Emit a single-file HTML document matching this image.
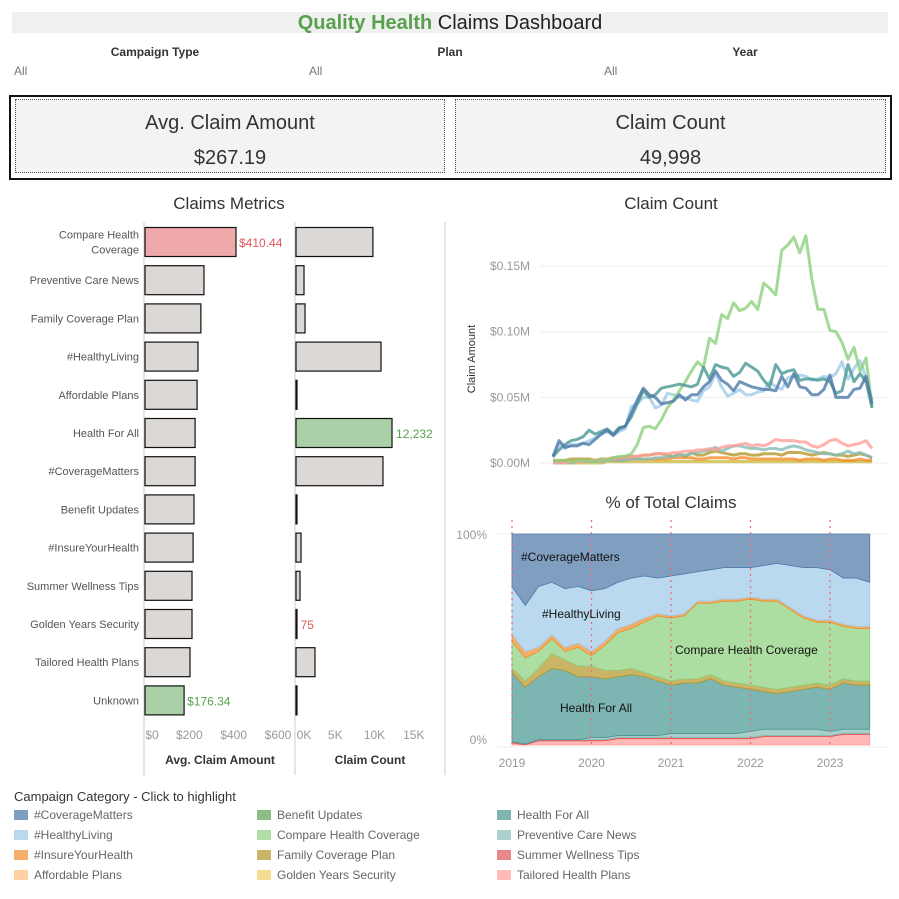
<!DOCTYPE html>
<html><head><meta charset="utf-8">
<style>
body{margin:0;width:899px;height:899px;background:#fff;font-family:"Liberation Sans","DejaVu Sans",sans-serif;position:relative;overflow:hidden}
.abs{position:absolute}
</style></head>
<body>
<div class="abs" style="left:12px;top:12px;width:876px;height:21px;background:#f0f0f0;text-align:center;font-size:20px;line-height:22px;color:#222"><b style="color:#59a14f">Quality Health</b> Claims Dashboard</div>

<div class="abs" style="left:80px;top:45px;width:150px;text-align:center;font-size:12px;font-weight:bold;color:#333">Campaign Type</div>
<div class="abs" style="left:14px;top:64px;font-size:12px;color:#777">All</div>
<div class="abs" style="left:375px;top:45px;width:150px;text-align:center;font-size:12px;font-weight:bold;color:#333">Plan</div>
<div class="abs" style="left:309px;top:64px;font-size:12px;color:#777">All</div>
<div class="abs" style="left:670px;top:45px;width:150px;text-align:center;font-size:12px;font-weight:bold;color:#333">Year</div>
<div class="abs" style="left:604px;top:64px;font-size:12px;color:#777">All</div>

<div class="abs" style="left:9px;top:95px;width:879px;height:81px;border:2px solid #111"></div>
<div class="abs" style="left:15px;top:99px;width:428px;height:72px;background:#f3f3f3;border:1px dotted #555;text-align:center;color:#333">
 <div style="font-size:20px;margin-top:12px">Avg. Claim Amount</div><div style="font-size:20px;margin-top:12px">$267.19</div></div>
<div class="abs" style="left:455px;top:99px;width:429px;height:72px;background:#f3f3f3;border:1px dotted #555;text-align:center;color:#333">
 <div style="font-size:20px;margin-top:12px">Claim Count</div><div style="font-size:20px;margin-top:12px">49,998</div></div>

<svg class="abs" style="left:0;top:0" width="899" height="899" id="chart" font-family="Liberation Sans, DejaVu Sans, sans-serif">
<text x="229" y="209" font-size="17" fill="#333" text-anchor="middle">Claims Metrics</text>
<text x="671" y="209" font-size="17" fill="#333" text-anchor="middle">Claim Count</text>
<text x="671" y="508" font-size="17" fill="#333" text-anchor="middle">% of Total Claims</text>
<line x1="445" y1="222" x2="445" y2="775" stroke="#ddd" stroke-width="1.5"/>
<line x1="144" y1="222" x2="144" y2="775" stroke="#ccc"/>
<line x1="295" y1="222" x2="295" y2="775" stroke="#ccc"/>
<text x="220" y="764" font-size="12" font-weight="bold" fill="#333" text-anchor="middle">Avg. Claim Amount</text>
<text x="370" y="764" font-size="12" font-weight="bold" fill="#333" text-anchor="middle">Claim Count</text>
<text x="466" y="350" font-size="11" fill="#333" text-anchor="middle" transform="rotate(-90 475 350)">Claim Amount</text>
<g id="bars"></g><g id="lines"></g><g id="areas"></g>
</svg>

<div class="abs" style="left:14px;top:789px;font-size:13px;color:#333">Campaign Category - Click to highlight</div>
<div id="legend"></div>

<script>
const NS="http://www.w3.org/2000/svg";
function mk(p,t,a){const e=document.createElementNS(NS,t);for(const k in a)e.setAttribute(k,a[k]);p.appendChild(e);return e;}
// ---- bar data
const barCats=["Compare Health Coverage","Preventive Care News","Family Coverage Plan","#HealthyLiving","Affordable Plans","Health For All","#CoverageMatters","Benefit Updates","#InsureYourHealth","Summer Wellness Tips","Golden Years Security","Tailored Health Plans","Unknown"];
const avgVals=[410.44,266,252,239,235,226,226,221,217,212,212,203,176.34];
const countVals=[9800,1020,1150,10830,130,12232,11080,100,640,510,75,2420,80];
const avgTicks=[0,200,400,600];
const countTicks=[0,5000,10000,15000];
const avgX=v=>145+v*0.2217, cntX=v=>296+v*0.00785, rowY=i=>242+i*38.2;
const bars=document.getElementById('bars');
barCats.forEach((c,i)=>{
  const y=rowY(i);
  let lbl=c==="Compare Health Coverage"?["Compare Health","Coverage"]:[c];
  lbl.forEach((l,j)=>{const t=mk(bars,'text',{x:139,y:y+4+(lbl.length>1?(j*15-7.5):0),'font-size':11,fill:'#555','text-anchor':'end'});t.textContent=l;
  
  });
  let fa=i===0?'#efa9aa':(c==="Unknown"?'#a9d0a6':'#dcd8d5');
  const r=mk(bars,'rect',{x:145,y:y-14.5,width:avgX(avgVals[i])-145,height:29,fill:fa,stroke:'#111','stroke-width':1.2});
  
  
  let fc=c==="Health For All"?'#a9d0a6':'#dcd8d5';
  const r2=mk(bars,'rect',{x:296,y:y-14.5,width:Math.max(1,cntX(countVals[i])-296),height:29,fill:fc,stroke:'#111','stroke-width':1.2});
  
  
  if(i===0||c==="Unknown"){const t=mk(bars,'text',{x:avgX(avgVals[i])+3,y:y+5,'font-size':12,fill:i===0?'#e15759':'#59a14f'});t.textContent='$'+avgVals[i].toFixed(2);
  
  }
  if(c==="Health For All"||c==="Golden Years Security"){const t=mk(bars,'text',{x:cntX(countVals[i])+4,y:y+5,'font-size':12,fill:c==="Health For All"?'#59a14f':'#e15759'});t.textContent=countVals[i].toLocaleString('en-US');
  
  }
});
avgTicks.forEach(v=>{const t=mk(bars,'text',{x:avgX(v)+(v===0?7:0),y:739,'font-size':12,fill:'#999','text-anchor':'middle'});t.textContent='$'+v;
  
  });
countTicks.forEach(v=>{const t=mk(bars,'text',{x:cntX(v)+(v===0?8:0),y:739,'font-size':12,fill:'#999','text-anchor':'middle'});t.textContent=(v/1000)+'K';
  
  });

// ---- line data ($K per month, Jan 2019 - Jun 2023)
const compareLine=[1,2,2,1,2,2,2,1,3,2,4,5,5,7,14,27,28,26,33,42,48,55,62,70,77,73,95,91,113,110,122,116,118,123,117,137,133,128,162,166,172,160,173,140,117,117,101,100,92,79,88,70,80,42];
const hfaLine=[5,10,14,17,18,20,25,22,24,26,22,27,28,35,45,55,50,52,57,58,59,60,59,58,60,73,64,75,73,72,66,69,76,73,70,63,58,75,68,70,71,63,64,64,63,64,62,53,55,75,62,68,62,42];
const coverageLine=[5,17,12,13,13,15,14,18,22,25,21,26,28,38,48,57,52,50,45,46,47,52,48,52,52,58,62,70,63,60,55,62,60,58,57,56,56,55,66,58,68,58,57,52,52,56,67,50,50,50,56,57,66,45];
const healthyLine=[4,14,11,14,14,15,17,19,22,24,21,24,26,43,45,50,50,42,44,53,52,50,50,48,47,55,58,68,58,51,53,56,52,52,54,55,62,58,56,65,66,67,66,63,64,66,65,68,77,64,72,78,65,48];
const tailoredLine=[0,0,0,1,1,1,2,2,2,3,3,4,4,5,5,6,6,7,7,7,8,8,9,9,10,10,11,10,12,13,13,14,15,13,14,13,15,18,17,17,17,16,16,13,12,14,17,18,15,13,14,15,17,11];
const preventiveLine=[0,0,0,0,1,1,1,1,1,2,2,2,2,3,3,3,3,4,4,5,5,6,6,7,8,9,10,12,9,11,13,13,12,11,11,10,11,11,10,12,13,12,10,9,8,7,7,6,7,9,7,8,6,4];
const familyLine=[2,2,2,3,3,3,3,2,3,3,4,4,5,5,5,6,6,7,7,6,5,7,5,8,6,6,8,9,8,7,6,7,7,6,6,7,7,7,6,8,8,8,7,6,7,8,7,6,6,5,6,7,6,4];
const insureLine=[1,1,1,1,2,2,2,2,2,2,2,2,3,3,3,3,3,3,3,3,4,4,4,4,3,3,4,4,4,4,3,4,4,3,3,3,3,3,3,3,3,2,3,3,3,2,3,3,2,2,2,3,2,2];
const minorLine=[0,0,0,0,0,0,0,0,0,1,1,1,1,1,1,1,1,1,1,1,1,1,1,1,1,1,1,1,1,1,1,1,1,1,1,1,1,1,1,1,1,1,1,1,1,1,1,1,1,1,1,1,1,1];
const lineTicks=[0,50,100,150];
const lx=i=>553+i*6.02, ly=v=>463-v*1.313;
const lines=document.getElementById('lines');
lineTicks.forEach(v=>{mk(lines,'line',{x1:540,x2:888,y1:ly(v),y2:ly(v),stroke:'#eee'});
 const t=mk(lines,'text',{x:530,y:ly(v)+4,'font-size':12,fill:'#999','text-anchor':'end'});t.textContent='$'+(v/1000).toFixed(2)+'M';
 
 });
[[minorLine,'#59a14f'],[minorLine,'#f1ce63'],[insureLine,'#f28e2b'],[familyLine,'#b6992d'],[preventiveLine,'#86bcb6'],[tailoredLine,'#ff9d9a'],[healthyLine,'#a0cbe8'],[compareLine,'#8cd17d'],[hfaLine,'#499894'],[coverageLine,'#4e79a7']].forEach(([d,c])=>{
 const p=mk(lines,'polyline',{points:d.map((v,i)=>lx(i)+','+ly(v)).join(' '),fill:'none',stroke:c,'stroke-width':3,'stroke-opacity':0.8,'stroke-linejoin':'round'});
 
 });

// ---- area data (% share, sampled every 2 months from Jan 2019)
const areaMonths=[0,2,4,6,8,10,12,14,16,18,20,22,24,26,28,30,32,34,36,38,40,42,44,46,48,50,52,54];
const tailoredPct=[1,0,2,2,2,2,2,2,3,3,3,3,3,3,3,3,3,3,3,4,4,4,4,4,4,5,5,5];
const summerPct=[0.5,0.5,0.5,0.5,0.5,0.5,0.5,0.5,0.5,0.5,0.5,0.5,0.5,0.5,0.5,0.5,0.5,0.5,0.5,0.5,0.5,0.5,0.5,0.5,0.5,0.5,0.5,0.5];
const preventivePct=[0,0,0,0,0,0,1,1,1,1,1,1,2,2,2,2,2,2,3,3,3,3,3,3,2,2,2,2];
const hfaPct=[33,27,30,34,33,30,29,28,28,29,28,26,23,24,24,26,23,22,20,18,17,18,19,20,20,22,21,21];
const familyPct=[2,3,4,7,5,5,5,4,3,3,2,2,2,2,2,2,2,2,2,2,2,2,2,2,2,2,2,2];
const comparePct=[13,11,8,7,4,9,5,12,18,19,24,29,30,30,36,34,38,39,41,41,42,37,32,29,30,25,25,25];
const insurePct=[3,3,2,2,2,2,2,2,2,2,2,1,1,1,1,1,1,1,1,1,1,1,1,1,1,1,1,1];
const healthyPct=[23,22,29,25,28,27,29,25,22,22,20,17,19,19,14,15,15,15,14,16,17,20,23,25,24,22,23,21];
const coveragePct=[25,34,25,23,26,25,27,26,23,21,20,21,20,19,18,17,16,16,16,15,14,15,16,16,17,21,21,23];
const yearTicks=[2019,2020,2021,2022,2023];
const ax=m=>512+m*6.625, ay=p=>745-p*2.11;
const areas=document.getElementById('areas');
mk(areas,'line',{x1:497,x2:888,y1:ay(100),y2:ay(100),stroke:'#eee'});
mk(areas,'line',{x1:497,x2:888,y1:747,y2:747,stroke:'#eee'});
[[100,'100%'],[0,'0%']].forEach(([v,s])=>{const t=mk(areas,'text',{x:487,y:ay(v)+(v?5:-1),'font-size':12,fill:'#999','text-anchor':'end'});t.textContent=s;
 
 });
const stack=[[tailoredPct,'#ff9d9a'],[summerPct,'#e15759'],[preventivePct,'#86bcb6'],[hfaPct,'#499894'],[familyPct,'#b6992d'],[comparePct,'#8cd17d'],[insurePct,'#f28e2b'],[healthyPct,'#a0cbe8'],[coveragePct,'#4e79a7']];
const totals=areaMonths.map((_,i)=>stack.reduce((s,[d])=>s+d[i],0));
let base=areaMonths.map(()=>0);
stack.forEach(([d,c])=>{
 const top=base.map((b,i)=>b+d[i]/totals[i]*100);
 const pts=areaMonths.map((m,i)=>ax(m)+','+ay(top[i])).concat(areaMonths.map((m,i)=>ax(m)+','+ay(base[i])).reverse());
 const p=mk(areas,'polygon',{points:pts.join(' '),fill:c,'fill-opacity':0.72,stroke:c,'stroke-width':0.8});
 
 
 base=top;});
yearTicks.forEach(y=>{const x=ax((y-2019)*12);
 mk(areas,'line',{x1:x,x2:x,y1:520,y2:745,stroke:'#e8707a','stroke-width':1.3,'stroke-dasharray':'2,4'});
 const t=mk(areas,'text',{x:x,y:767,'font-size':12,fill:'#999','text-anchor':'middle'});t.textContent=y;
 
 });
[['#CoverageMatters',521,561],['#HealthyLiving',542,618],['Compare Health Coverage',675,654],['Health For All',560,712]].forEach(([s,x,y])=>{const t=mk(areas,'text',{x:x,y:y,'font-size':12,fill:'#111'});t.textContent=s;
 
 });

// legend
const legNames=["#CoverageMatters","#HealthyLiving","#InsureYourHealth","Affordable Plans","Benefit Updates","Compare Health Coverage","Family Coverage Plan","Golden Years Security","Health For All","Preventive Care News","Summer Wellness Tips","Tailored Health Plans"];
const legColors=["#7f9dc1","#bad8ee","#f5ae6b","#ffd1a4","#8bbd84","#afdea4","#cbb56c","#f5dc91","#7fb4b1","#aad1cc","#ea898b","#ffbab8"];
const leg=document.getElementById('legend');
legNames.forEach((n,i)=>{const col=Math.floor(i/4),row=i%4;
 const d=document.createElement('div');d.className='abs';
 d.style.cssText=`left:${[14,257,497][col]}px;top:${808+row*20}px;font-size:12px;color:#666;white-space:nowrap`;
 d.innerHTML=`<span style="display:inline-block;width:14px;height:10px;background:${legColors[i]};margin-right:6px;vertical-align:-1px"></span>${n}`;
 
 
 leg.appendChild(d);});
</script>
</body></html>
